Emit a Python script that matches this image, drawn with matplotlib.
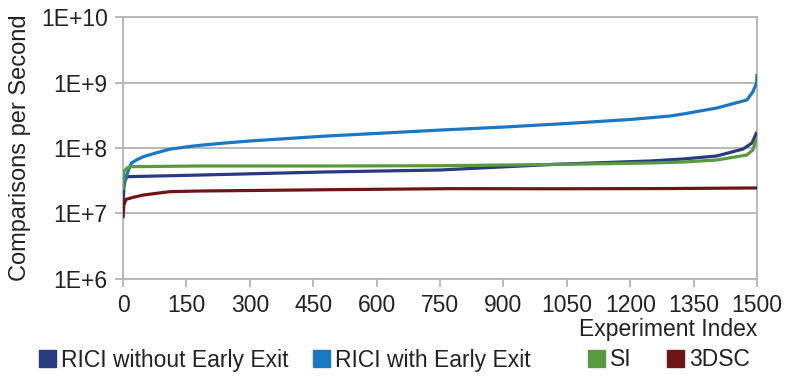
import matplotlib
matplotlib.use("Agg")
import matplotlib.pyplot as plt
from matplotlib.ticker import FixedLocator, FuncFormatter, NullLocator
from matplotlib.patches import Patch
import numpy as np

plt.rcParams['font.family'] = ['Liberation Sans', 'DejaVu Sans']

series_names = ["RICI without Early Exit", "RICI with Early Exit", "SI", "3DSC"]
colors = ["#283a80", "#1a78c2", "#589b3e", "#6e1616"]

rici_noee_idx = [0, 1, 2, 4, 9, 182, 478, 750, 1022, 1247, 1325, 1405, 1467, 1488, 1500]
rici_noee_val = [1.34e7, 1.72e7, 2.44e7, 3.05e7, 3.64e7, 3.86e7, 4.30e7, 4.61e7, 5.63e7,
                 6.33e7, 6.79e7, 7.55e7, 9.66e7, 1.19e8, 1.76e8]

rici_ee_idx = [0, 2, 9, 13, 20, 32, 48, 80, 111, 150, 182, 240, 300, 478, 600, 750, 900,
               1050, 1200, 1294, 1325, 1405, 1476, 1490, 1499, 1500]
rici_ee_val = [2.28e7, 3.05e7, 3.86e7, 4.61e7, 5.9e7, 6.56e7, 7.36e7, 8.47e7, 9.6e7,
               1.04e8, 1.1e8, 1.19e8, 1.28e8, 1.52e8, 1.67e8, 1.88e8, 2.09e8, 2.37e8,
               2.73e8, 3.08e8, 3.31e8, 4.09e8, 5.42e8, 7.18e8, 9.86e8, 1.35e9]

si_idx = [0, 1, 2, 9, 17, 182, 478, 750, 1022, 1247, 1325, 1405, 1476, 1490, 1500]
si_val = [2.28e7, 3.44e7, 4.34e7, 4.9e7, 5.18e7, 5.31e7, 5.31e7, 5.36e7, 5.6e7,
          5.9e7, 6.1e7, 6.56e7, 7.82e7, 9.3e7, 1.42e8]

dsc_idx = [0, 2, 7, 24, 48, 80, 111, 182, 478, 774, 1022, 1294, 1500]
dsc_val = [8.4e6, 1.34e7, 1.64e7, 1.76e7, 1.91e7, 2.03e7, 2.15e7, 2.2e7, 2.3e7,
           2.39e7, 2.38e7, 2.40e7, 2.45e7]

x_ticks = [0, 150, 300, 450, 600, 750, 900, 1050, 1200, 1350, 1500]
y_ticks = [1e6, 1e7, 1e8, 1e9, 1e10]

FS = 16.5
TXT = '#222222'

fig = plt.figure(figsize=(7.85, 3.76), dpi=100)
ax = fig.add_axes([123/785, 1-278.8/376, (757-123)/785, (278.8-17.2)/376])

data = [(rici_noee_idx, rici_noee_val), (rici_ee_idx, rici_ee_val),
        (si_idx, si_val), (dsc_idx, dsc_val)]
for (xi, yv), c, name in zip(data, colors, series_names):
    ax.plot(xi, yv, color=c, lw=2.3, solid_capstyle='butt', label=name, zorder=3)

ax.set_yscale('log')
ax.set_ylim(1e6, 1e10)
ax.set_xlim(0, 1500)
ax.yaxis.set_major_locator(FixedLocator(y_ticks))
ax.yaxis.set_minor_locator(NullLocator())
ax.yaxis.set_major_formatter(FuncFormatter(lambda v, p: "1E+%d" % round(np.log10(v))))
ax.set_xticks(x_ticks)
ax.grid(axis='y', color='#b3b3b3', lw=1.3, zorder=0)
for s in ax.spines.values():
    s.set_color('#b3b3b3')
    s.set_linewidth(1.3)
ax.tick_params(axis='both', colors='#b3b3b3', labelcolor=TXT, labelsize=FS,
               length=6, width=1.3, direction='out')
ax.tick_params(axis='x', pad=5)
ax.tick_params(axis='y', pad=5)

ax.set_ylabel("Comparisons per Second", fontsize=17, color=TXT, labelpad=7)
ax.set_xlabel("Experiment Index", fontsize=FS, color=TXT, loc='right', labelpad=1)

# legend entries placed as in the reference (one legend per entry)
legend_x = [39, 313, 588, 667]
for c, name, lx in zip(colors, series_names, legend_x):
    lg = fig.legend([Patch(facecolor=c, edgecolor=c)], [name], loc='center left',
                    bbox_to_anchor=(lx/785, 1-360/376), frameon=False, fontsize=FS,
                    handlelength=0.75, handleheight=0.75, handletextpad=0.2,
                    borderpad=0, borderaxespad=0)
    for t in lg.get_texts():
        t.set_color(TXT)

fig.savefig("out.png", dpi=100)
